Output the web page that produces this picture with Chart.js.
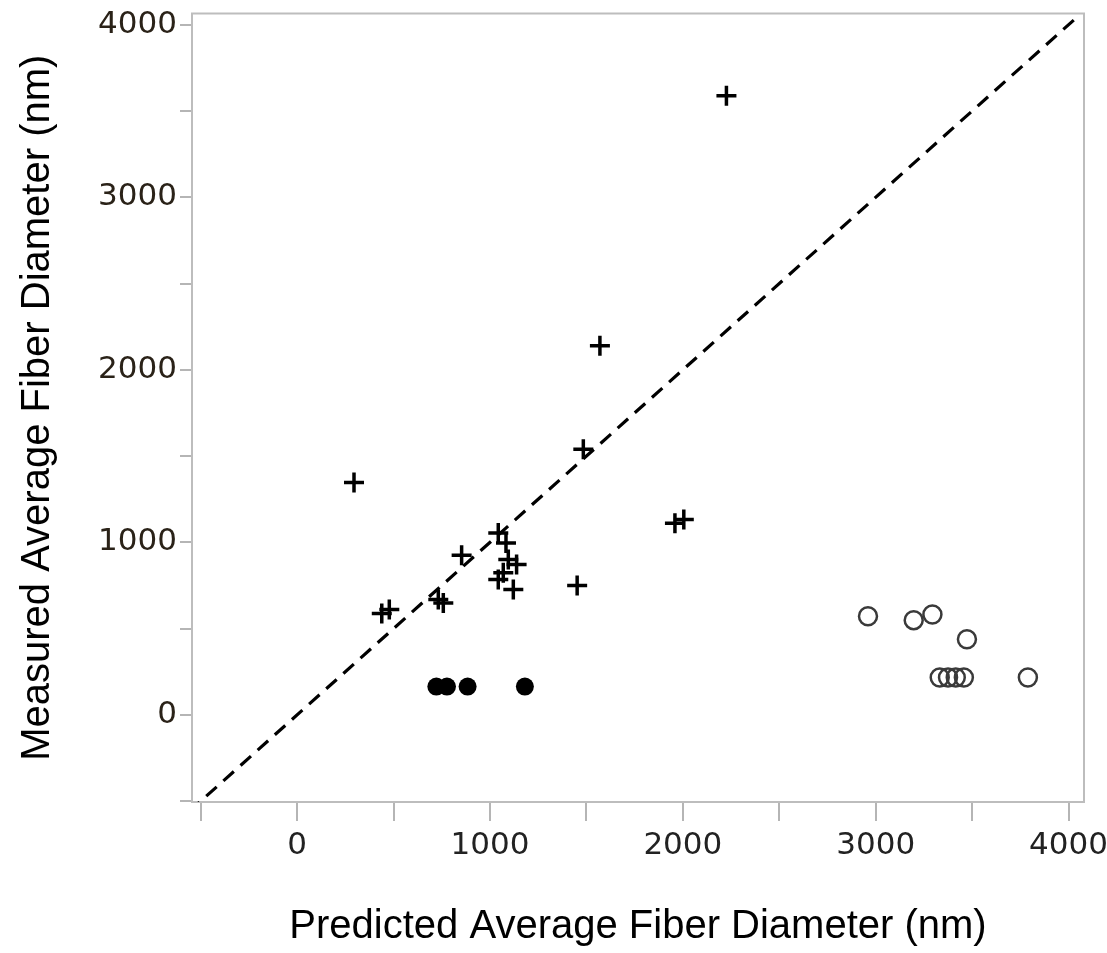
<!DOCTYPE html>
<html>
<head>
<meta charset="utf-8">
<title>Predicted vs Measured Fiber Diameter</title>
<script src="https://cdn.jsdelivr.net/npm/chart.js@4/dist/chart.umd.min.js"></script>
<style>
  html, body { margin: 0; padding: 0; background: #fff; }
  #wrap { width: 1107px; height: 953px; }
</style>
</head>
<body>
<div id="wrap"><canvas id="c" width="1107" height="953"></canvas></div>
<script>
// Training runs (plus markers)
const crossPredicted = [2226, 1570, 1484, 295, 853, 1043, 1083, 1095, 1138, 1069, 1043, 1121, 1452, 1959, 2005, 439, 478, 732, 758];
const crossMeasured  = [3588, 2139, 1539, 1347, 925, 1054, 996, 900, 871, 823, 784, 727, 750, 1110, 1133, 588, 611, 668, 649];

// Filled-circle runs
const filledPredicted = [722, 777, 884, 1181];
const filledMeasured  = [164, 164, 164, 164];

// Open-circle runs
const openPredicted = [2960, 3197, 3294, 3473, 3332, 3375, 3415, 3457, 3789];
const openMeasured  = [572, 549, 582, 438, 216, 216, 216, 216, 216];

// Line of identity (measured = predicted)
const identityLine = [-560, 4040];

// Axis ticks: minor every 500, labels every 1000
const tickValues = [-500, 0, 500, 1000, 1500, 2000, 2500, 3000, 3500, 4000];
const labelledTicks = [0, 1000, 2000, 3000, 4000];

const xRange = [-545, 4080];
const yRange = [-505, 4065];

const toPoints = (xs, ys) => xs.map((x, i) => ({ x: x, y: ys[i] }));

const framePlugin = {
  id: 'frame',
  beforeDatasetsDraw(chart) {
    const a = chart.chartArea, ctx = chart.ctx;
    ctx.save();
    ctx.strokeStyle = '#bdbdbd';
    ctx.lineWidth = 2;
    ctx.strokeRect(a.left, a.top, a.right - a.left, a.bottom - a.top);
    ctx.restore();
  }
};

const tickFont = { family: 'DejaVu Sans', size: 31 };
const titleFont = { family: 'Liberation Sans', size: 40 };

new Chart(document.getElementById('c'), {
  type: 'scatter',
  data: {
    datasets: [
      {
        label: 'plus',
        data: toPoints(crossPredicted, crossMeasured),
        pointStyle: 'cross',
        pointRadius: 10,
        pointHoverRadius: 10,
        pointBorderColor: '#000',
        pointBorderWidth: 3.5,
        borderColor: '#000'
      },
      {
        label: 'filled',
        data: toPoints(filledPredicted, filledMeasured),
        pointStyle: 'circle',
        pointRadius: 9,
        pointHoverRadius: 9,
        pointBackgroundColor: '#000',
        pointBorderColor: '#000',
        pointBorderWidth: 0
      },
      {
        label: 'open',
        data: toPoints(openPredicted, openMeasured),
        pointStyle: 'circle',
        pointRadius: 9,
        pointHoverRadius: 9,
        pointBackgroundColor: 'rgba(255,255,255,0)',
        pointBorderColor: '#3a3a3a',
        pointBorderWidth: 2.5
      },
      {
        label: 'identity',
        type: 'line',
        data: toPoints(identityLine, identityLine),
        showLine: true,
        pointRadius: 0,
        borderColor: '#000',
        borderWidth: 3.2,
        borderDash: [14, 9],
        fill: false
      }
    ]
  },
  options: {
    responsive: false,
    animation: false,
    events: [],
    layout: { padding: { left: 0, top: 11, right: 23, bottom: 0 } },
    plugins: { legend: { display: false }, tooltip: { enabled: false } },
    scales: {
      x: {
        type: 'linear',
        min: xRange[0],
        max: xRange[1],
        afterBuildTicks: s => { s.ticks = tickValues.map(v => ({ value: v })); },
        afterFit: s => { s.height = 151; s.paddingLeft = 0; s.paddingRight = 0; },
        grid: { drawOnChartArea: false, drawTicks: true, tickLength: 19, color: '#b5b5b5', lineWidth: 2 },
        border: { display: false },
        ticks: {
          font: tickFont,
          color: '#222',
          padding: 6,
          maxRotation: 0,
          autoSkip: false,
          callback: v => labelledTicks.includes(v) ? String(v) : ''
        },
        title: {
          display: true,
          text: 'Predicted Average Fiber Diameter (nm)',
          font: titleFont,
          color: '#000',
          padding: { top: 8, bottom: 2 }
        }
      },
      y: {
        type: 'linear',
        min: yRange[0],
        max: yRange[1],
        afterBuildTicks: s => { s.ticks = tickValues.map(v => ({ value: v })); },
        afterFit: s => { s.width = 192; s.paddingTop = 0; s.paddingBottom = 0; },
        grid: { drawOnChartArea: false, drawTicks: true, tickLength: 12, color: '#b5b5b5', lineWidth: 2 },
        border: { display: false },
        ticks: {
          font: tickFont,
          color: '#2a2218',
          padding: 3,
          autoSkip: false,
          callback: v => labelledTicks.includes(v) ? String(v) : ''
        },
        title: {
          display: true,
          text: 'Measured Average Fiber Diameter (nm)',
          font: titleFont,
          color: '#000',
          padding: { top: 14, bottom: 0 }
        }
      }
    }
  },
  plugins: [framePlugin]
});
</script>
</body>
</html>
